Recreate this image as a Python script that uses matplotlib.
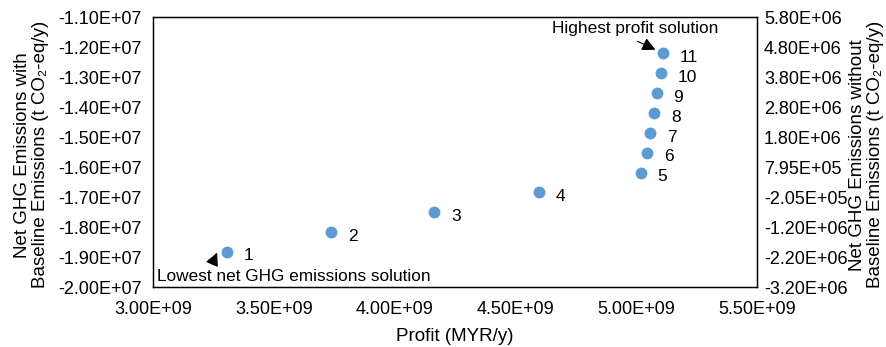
import matplotlib.pyplot as plt
import numpy as np
from matplotlib.ticker import FuncFormatter

plt.rcParams['font.family'] = ['Liberation Sans', 'DejaVu Sans']
plt.rcParams['font.size'] = 13

# solutions 1..11
profit = [3.305e9, 3.737e9, 4.164e9, 4.598e9, 5.020e9, 5.046e9, 5.057e9,
          5.075e9, 5.085e9, 5.101e9, 5.112e9]
ghg_with = [-1.882e7, -1.818e7, -1.751e7, -1.683e7, -1.619e7, -1.552e7,
            -1.488e7, -1.421e7, -1.354e7, -1.288e7, -1.221e7]
labels = [str(i) for i in range(1, 12)]

left_ticks = np.arange(-2.0e7, -1.09e7, 1e6)
right_offset = 1.68e7
right_labels = ["-3.20E+06", "-2.20E+06", "-1.20E+06", "-2.05E+05", "7.95E+05",
                "1.80E+06", "2.80E+06", "3.80E+06", "4.80E+06", "5.80E+06"]

fig, ax = plt.subplots(figsize=(8.86, 3.47), dpi=100)
fig.subplots_adjust(left=0.1727, right=0.8544, top=0.951, bottom=0.1729)

ax.plot(profit, ghg_with, 'o', color='#5B9BD5', markersize=7.5, zorder=3)
for x, y, t in zip(profit, ghg_with, labels):
    ax.annotate(t, (x, y), xytext=(12, -3), textcoords='offset points',
                ha='left', va='center', fontsize=12.5)

ax.set_xlim(3.0e9, 5.5e9)
ax.set_ylim(-2.0e7, -1.1e7)
ax.set_xticks(np.arange(3.0e9, 5.51e9, 0.5e9))
ax.set_yticks(left_ticks)
sci = FuncFormatter(lambda v, p: f"{v:.2E}")
ax.xaxis.set_major_formatter(sci)
ax.yaxis.set_major_formatter(sci)
ax.tick_params(axis='x', length=0, pad=10)
ax.tick_params(axis='y', length=0, pad=8)
ax.set_xlabel("Profit (MYR/y)", fontsize=13.5, labelpad=7)
ax.set_ylabel("Net GHG Emissions with\nBaseline Emissions (t CO₂-eq/y)", fontsize=13.5,
              linespacing=1.05)
ax.yaxis.set_label_coords(-0.172, 0.49)
for s in ax.spines.values():
    s.set_linewidth(1)

ax2 = ax.twinx()
ax2.set_ylim(-2.0e7 + right_offset, -1.1e7 + right_offset)
ax2.set_yticks(left_ticks + right_offset)
ax2.set_yticklabels(right_labels)
ax2.tick_params(length=0, pad=5)
ax2.set_ylabel("Net GHG Emissions without\nBaseline Emissions (t CO₂-eq/y)",
               rotation=90, fontsize=13.5, linespacing=1.05)
ax2.yaxis.set_label_coords(1.153, 0.49)

arrow = dict(arrowstyle='-|>', color='black', lw=0.8, mutation_scale=20)
ax.text(4.995e9, -1.137e7, "Highest profit solution", ha='center', va='center', fontsize=12.4)
ax.annotate('', xy=(5.090e9, -1.213e7), xytext=(4.995e9, -1.177e7), arrowprops=arrow)
ax.text(3.017e9, -1.966e7, "Lowest net GHG emissions solution", ha='left', va='center',
        fontsize=12.4)
ax.annotate('', xy=(3.270e9, -1.877e7), xytext=(3.240e9, -1.932e7), arrowprops=arrow)

plt.savefig('out.png')
